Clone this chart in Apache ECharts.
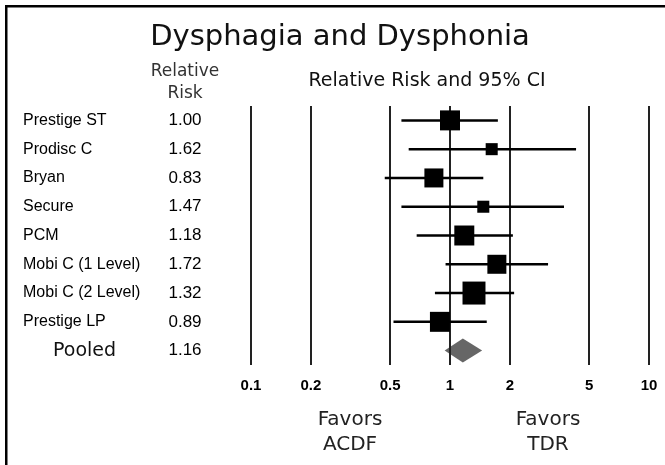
<!DOCTYPE html>
<html><head><meta charset="utf-8">
<script src="https://cdn.jsdelivr.net/npm/echarts@6/dist/echarts.min.js"></script>
<style>html,body{margin:0;padding:0;background:#fff}#c{width:665px;height:465px}</style>
</head><body><div id="c"></div>
<script>
const studies = ['Prestige ST','Prodisc C','Bryan','Secure','PCM','Mobi C (1 Level)','Mobi C (2 Level)','Prestige LP','Pooled'];
const rr = [1.00,1.62,0.83,1.47,1.18,1.72,1.32,0.89,1.16];
const ciLow = [0.57,0.62,0.47,0.57,0.68,0.95,0.84,0.52,0.94];
const ciHigh = [1.74,4.30,1.47,3.74,2.07,3.11,2.10,1.53,1.45];
const weights = [14.6,5.3,13.2,5.3,14.6,13.2,19.3,14.6];
const tickValues = [0.1,0.2,0.5,1,2,5,10];
const tickLabels = ['0.1','0.2','0.5','1','2','5','10'];

const ARIAL = "'Liberation Sans',Arial,sans-serif";
const VERD = "'DejaVu Sans',Verdana,sans-serif";
const chart = echarts.init(document.getElementById('c'), null, {renderer:'canvas'});

const studyData = [];
for (let i = 0; i < weights.length; i++) studyData.push([rr[i], i, ciLow[i], ciHigh[i], weights[i]]);
const pooledIdx = studies.length - 1;

chart.setOption({
  animation:false,
  backgroundColor:'#fff',
  grid:{left:251, right:16, top:106, bottom:100, containLabel:false},
  xAxis:{type:'log', logBase:10, min:0.1, max:10,
    axisLine:{show:false}, axisTick:{show:false}, splitLine:{show:false}, minorSplitLine:{show:false},
    axisLabel:{customValues:tickValues, margin:13, fontFamily:ARIAL, fontWeight:'bold', fontSize:15, color:'#000',
      formatter:function(v){let b=0,d=1e9;tickValues.forEach((t,k)=>{const e=Math.abs(Math.log(t)-Math.log(v));if(e<d){d=e;b=k;}});return tickLabels[b];}}},
  yAxis:[
    {type:'category', data:studies, inverse:true, position:'left',
      axisLine:{show:false}, axisTick:{show:false}, splitLine:{show:false},
      axisLabel:{margin:228, align:'left', fontFamily:ARIAL, fontSize:16, color:'#000',
        formatter:function(v){return v==='Pooled' ? '{p|'+v+'}' : v;},
        rich:{p:{fontFamily:VERD, fontSize:19, color:'#111', padding:[0,0,0,30]}}}},
    {type:'category', data:rr.map(v=>v.toFixed(2)), inverse:true, position:'left',
      axisLine:{show:false}, axisTick:{show:false}, splitLine:{show:false},
      axisLabel:{margin:66, align:'center', fontFamily:ARIAL, fontSize:17, color:'#000'}}
  ],
  graphic:[
    {type:'rect', shape:{x:6.25,y:6.25,width:720,height:520}, style:{fill:null, stroke:'#000', lineWidth:2.5}, silent:true},
    {type:'text', x:340, y:37, style:{text:'Dysphagia and Dysphonia', font:'29px '+VERD, fill:'#111', textAlign:'center', textVerticalAlign:'middle'}},
    {type:'text', x:185, y:72, style:{text:'Relative', font:'17px '+VERD, fill:'#333', textAlign:'center', textVerticalAlign:'middle'}},
    {type:'text', x:185, y:94, style:{text:'Risk', font:'17px '+VERD, fill:'#333', textAlign:'center', textVerticalAlign:'middle'}},
    {type:'text', x:427, y:81, style:{text:'Relative Risk and 95% CI', font:'19px '+VERD, fill:'#111', textAlign:'center', textVerticalAlign:'middle'}},
    {type:'text', x:350, y:420, style:{text:'Favors', font:'20px '+VERD, fill:'#222', textAlign:'center', textVerticalAlign:'middle'}},
    {type:'text', x:350, y:445, style:{text:'ACDF', font:'20px '+VERD, fill:'#222', textAlign:'center', textVerticalAlign:'middle'}},
    {type:'text', x:548, y:420, style:{text:'Favors', font:'20px '+VERD, fill:'#222', textAlign:'center', textVerticalAlign:'middle'}},
    {type:'text', x:548, y:445, style:{text:'TDR', font:'20px '+VERD, fill:'#222', textAlign:'center', textVerticalAlign:'middle'}}
  ],
  series:[
    {type:'custom', name:'pooled', z:1, data:[[rr[pooledIdx], pooledIdx, ciLow[pooledIdx], ciHigh[pooledIdx]]],
      encode:{x:[0,2,3], y:1},
      renderItem:function(params, api){
        const c = api.coord([api.value(0), api.value(1)]);
        const l = api.coord([api.value(2), api.value(1)]);
        const h = api.coord([api.value(3), api.value(1)]);
        const hh = 12;
        return {type:'polygon', shape:{points:[[l[0],c[1]],[c[0],c[1]-hh],[h[0],c[1]],[c[0],c[1]+hh]]}, style:{fill:'#666', stroke:null}};
      }},
    {type:'custom', name:'ref', z:2, data:tickValues.map(v=>[v,0]), encode:{x:0, y:1},
      renderItem:function(params, api){
        const cs = params.coordSys;
        const x = Math.round(api.coord([api.value(0), 0])[0]);
        return {type:'line', shape:{x1:x, y1:cs.y, x2:x, y2:cs.y+cs.height}, style:{stroke:'#222', lineWidth:2}};
      }},
    {type:'custom', name:'studies', z:3, data:studyData, encode:{x:[0,2,3], y:1},
      renderItem:function(params, api){
        const c = api.coord([api.value(0), api.value(1)]);
        const l = api.coord([api.value(2), api.value(1)]);
        const h = api.coord([api.value(3), api.value(1)]);
        const s = 5.23*Math.sqrt(api.value(4));
        return {type:'group', children:[
          {type:'line', shape:{x1:l[0], y1:c[1], x2:h[0], y2:c[1]}, style:{stroke:'#000', lineWidth:2.5}},
          {type:'rect', shape:{x:c[0]-s/2, y:c[1]-s/2, width:s, height:s}, style:{fill:'#000'}}
        ]};
      }}
  ]
});
</script></body></html>
